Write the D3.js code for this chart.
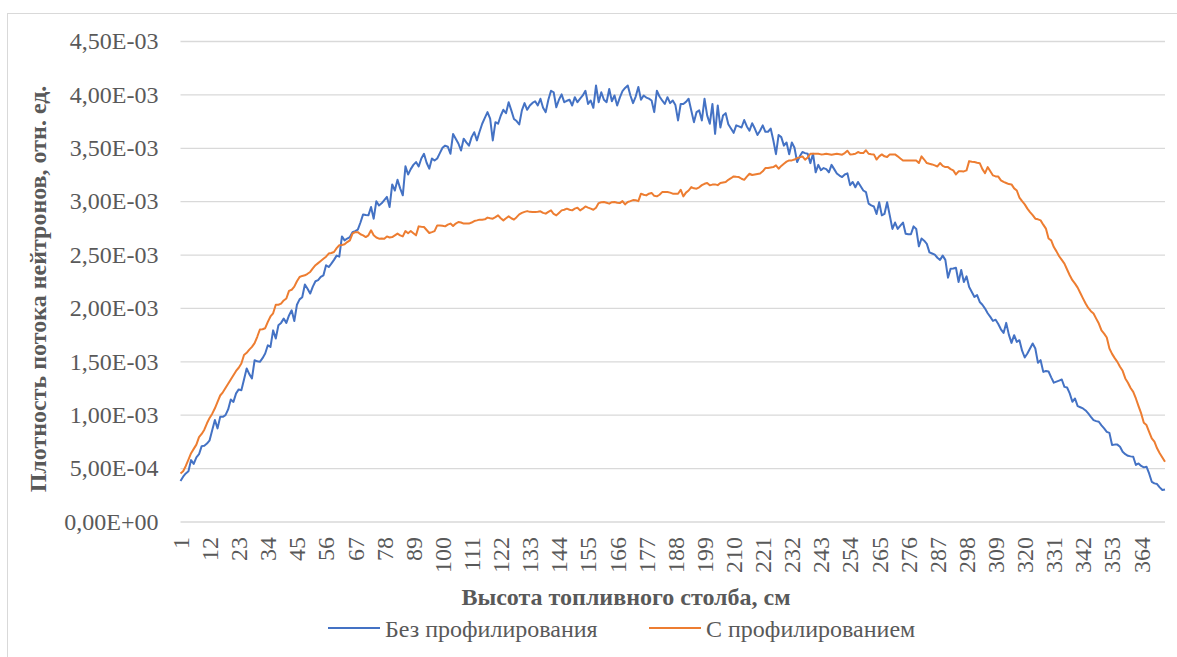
<!DOCTYPE html>
<html><head><meta charset="utf-8">
<script src="https://cdn.jsdelivr.net/npm/d3@7"></script>
<style>
html,body{margin:0;padding:0;background:#fff;}
svg{display:block;font-family:"Liberation Serif","Times New Roman",serif;}
</style></head>
<body>
<svg id="c" width="1177" height="657"></svg>
<script>
// Values in units of 1E-03 (отн. ед. × 10^-3)
const seriesNames = ["Без профилирования", "С профилированием"];
const blueE3 = [
0.38,0.42,0.45,0.47,0.575,0.54,0.6,0.63,0.706,0.71,
0.73,0.76,0.856,0.95,0.872,0.98,0.98,0.996,1.05,1.143,
1.12,1.2,1.237,1.23,1.33,1.433,1.38,1.34,1.51,1.5,
1.495,1.53,1.573,1.65,1.635,1.79,1.714,1.838,1.86,1.9,
1.86,1.93,1.978,1.878,2.03,2.08,2.1,2.22,2.18,2.135,
2.2,2.25,2.26,2.29,2.305,2.4,2.383,2.415,2.45,2.49,
2.48,2.67,2.633,2.65,2.664,2.71,2.72,2.733,2.8,2.876,
2.87,2.867,2.945,2.836,3.0,2.96,2.98,3.01,3.04,2.945,
3.157,3.1,3.2,3.12,3.055,3.326,3.25,3.3,3.34,3.366,
3.325,3.4,3.444,3.36,3.304,3.4,3.38,3.4,3.45,3.5,
3.52,3.51,3.444,3.63,3.585,3.54,3.475,3.585,3.55,3.52,
3.6,3.646,3.569,3.65,3.725,3.78,3.834,3.772,3.569,3.74,
3.725,3.8,3.856,3.824,3.927,3.85,3.77,3.75,3.718,3.85,
3.918,3.856,3.896,3.92,3.936,3.896,3.959,3.874,3.834,3.95,
4.034,4.02,3.88,3.95,4.0,3.927,3.94,3.95,3.896,3.974,
3.927,3.96,3.99,4.034,3.91,3.943,3.874,4.083,3.927,4.02,
3.95,3.927,4.05,3.936,3.99,3.896,3.97,4.03,4.06,4.083,
3.99,3.918,3.98,4.07,3.95,3.99,3.97,3.96,3.943,3.834,
4.034,3.98,3.943,3.91,3.974,3.918,3.943,3.9,3.756,3.91,
3.91,3.93,3.959,3.85,3.74,3.834,3.85,3.756,3.959,3.803,
3.725,3.91,3.631,3.896,3.69,3.803,3.824,3.72,3.68,3.64,
3.71,3.7,3.69,3.76,3.7,3.66,3.73,3.68,3.62,3.66,
3.71,3.65,3.65,3.68,3.57,3.44,3.62,3.6,3.52,3.55,
3.44,3.55,3.5,3.366,3.42,3.46,3.45,3.444,3.356,3.444,
3.27,3.34,3.29,3.31,3.3,3.27,3.34,3.3,3.26,3.24,
3.226,3.25,3.26,3.15,3.18,3.13,3.18,3.14,3.1,3.085,
2.977,2.96,2.95,2.88,2.99,2.867,2.88,2.99,2.867,2.74,
2.8,2.74,2.77,2.8,2.695,2.69,2.69,2.764,2.74,2.577,
2.65,2.63,2.6,2.52,2.51,2.5,2.47,2.45,2.49,2.45,
2.284,2.368,2.37,2.377,2.243,2.356,2.243,2.296,2.196,2.15,
2.103,2.12,2.056,2.03,1.994,1.95,1.916,1.878,1.89,1.85,
1.8,1.766,1.86,1.75,1.673,1.745,1.682,1.698,1.6,1.536,
1.573,1.62,1.667,1.62,1.486,1.511,1.401,1.41,1.405,1.35,
1.3,1.31,1.32,1.33,1.261,1.255,1.2,1.121,1.152,1.08,
1.07,1.059,1.04,1.012,0.98,0.95,0.94,0.934,0.9,0.872,
0.84,0.83,0.716,0.72,0.72,0.7,0.653,0.63,0.615,0.61,
0.606,0.529,0.544,0.52,0.507,0.513,0.45,0.372,0.357,0.351,
0.32,0.295,0.3
];
const orangeE3 = [
0.45,0.47,0.52,0.58,0.64,0.68,0.72,0.79,0.82,0.86,
0.92,0.97,1.01,1.06,1.12,1.18,1.21,1.25,1.29,1.33,
1.37,1.41,1.44,1.48,1.56,1.58,1.61,1.635,1.67,1.73,
1.798,1.8,1.81,1.87,1.92,1.95,2.03,2.03,2.04,2.07,
2.088,2.16,2.17,2.2,2.25,2.29,2.3,2.306,2.32,2.337,
2.37,2.4,2.42,2.44,2.46,2.48,2.509,2.515,2.524,2.56,
2.587,2.59,2.596,2.617,2.633,2.696,2.71,2.71,2.69,2.68,
2.664,2.68,2.727,2.68,2.66,2.649,2.65,2.649,2.67,2.66,
2.664,2.68,2.696,2.68,2.67,2.72,2.7,2.72,2.7,2.68,
2.764,2.76,2.758,2.73,2.702,2.71,2.72,2.773,2.773,2.77,
2.764,2.78,2.79,2.767,2.79,2.805,2.8,2.79,2.79,2.79,
2.8,2.814,2.82,2.827,2.827,2.83,2.846,2.84,2.836,2.85,
2.867,2.84,2.82,2.84,2.858,2.84,2.827,2.85,2.876,2.89,
2.9,2.907,2.9,2.899,2.899,2.9,2.905,2.89,2.883,2.9,
2.914,2.88,2.867,2.89,2.914,2.92,2.93,2.92,2.914,2.93,
2.939,2.914,2.93,2.951,2.94,2.93,2.92,2.939,2.982,2.99,
2.992,2.985,2.977,2.99,2.992,2.985,2.982,3.0,2.97,2.992,
3.0,3.01,3.008,3.0,3.07,3.06,3.054,3.07,3.077,3.05,
3.045,3.06,3.085,3.085,3.085,3.08,3.07,3.07,3.07,3.107,
3.045,3.08,3.1,3.132,3.12,3.117,3.13,3.15,3.163,3.17,
3.148,3.155,3.157,3.15,3.17,3.175,3.18,3.2,3.215,3.232,
3.228,3.226,3.21,3.2,3.23,3.257,3.245,3.25,3.255,3.26,
3.28,3.31,3.31,3.315,3.319,3.335,3.304,3.33,3.351,3.37,
3.382,3.382,3.39,3.404,3.41,3.419,3.388,3.41,3.444,3.444,
3.444,3.444,3.438,3.44,3.444,3.44,3.435,3.44,3.444,3.44,
3.435,3.45,3.472,3.438,3.44,3.444,3.46,3.45,3.45,3.477,
3.444,3.44,3.438,3.39,3.42,3.438,3.42,3.413,3.438,3.438,
3.438,3.42,3.4,3.38,3.38,3.38,3.38,3.38,3.38,3.357,
3.42,3.39,3.357,3.35,3.344,3.335,3.325,3.357,3.33,3.319,
3.319,3.3,3.288,3.25,3.28,3.28,3.279,3.288,3.375,3.37,
3.366,3.36,3.356,3.3,3.263,3.319,3.28,3.241,3.232,3.23,
3.195,3.18,3.17,3.16,3.157,3.12,3.1,3.033,3.0,2.97,
2.93,2.898,2.87,2.836,2.83,2.82,2.78,2.743,2.65,2.633,
2.57,2.53,2.484,2.45,2.415,2.36,2.306,2.26,2.228,2.19,
2.14,2.09,2.041,2.0,1.97,1.948,1.9,1.854,1.79,1.76,
1.723,1.62,1.57,1.53,1.495,1.45,1.411,1.34,1.3,1.25,
1.214,1.152,1.08,1.012,0.924,0.903,0.84,0.778,0.747,0.685,
0.64,0.6,0.559
];
const categories = d3.range(1, blueE3.length + 1);           // высота, см: 1..373
const xTickValues = categories.filter(c => (c - 1) % 11 === 0); // 1, 12, 23, ... 364
const yTickValues = [0, 0.5, 1.0, 1.5, 2.0, 2.5, 3.0, 3.5, 4.0, 4.5];
const yTickLabels = ["0,00E+00","5,00E-04","1,00E-03","1,50E-03","2,00E-03","2,50E-03","3,00E-03","3,50E-03","4,00E-03","4,50E-03"];
const xTitle = "Высота топливного столба, см";
const yTitle = "Плотность потока нейтронов, отн. ед.";
const colors = ["#4472C4", "#ED7D31"];

const svg = d3.select("#c");
const plot = {left: 180.5, right: 1165, top: 41, bottom: 521.5};
const FS = 24;

// outer chart border
svg.append("rect").attr("x", 7.5).attr("y", 13.5).attr("width", 1250).attr("height", 800)
  .attr("fill", "none").attr("stroke", "#d9d9d9").attr("stroke-width", 1);

const x = d3.scaleLinear().domain([1, categories.length]).range([plot.left, plot.right]);
const y = d3.scaleLinear().domain([0, 4.5]).range([plot.bottom, plot.top]);

// gridlines + y labels
const yAxis = d3.axisLeft(y).tickValues(yTickValues)
  .tickFormat((d, i) => yTickLabels[i]).tickSize(-(plot.right - plot.left)).tickPadding(22);
const gy = svg.append("g").attr("transform", `translate(${plot.left},0)`).call(yAxis);
gy.select(".domain").remove();
gy.selectAll(".tick line").attr("stroke", "#d9d9d9").attr("stroke-width", 1.3);
gy.selectAll(".tick text").attr("fill", "#595959").attr("font-size", FS)
  .attr("font-family", "Liberation Serif, Times New Roman, serif");

// x labels (rotated)
const gx = svg.append("g");
gx.selectAll("text").data(xTickValues).join("text")
  .attr("transform", d => `translate(${x(d)},537) rotate(-90)`)
  .attr("dy", "0.35em").attr("text-anchor", "end")
  .attr("fill", "#595959").attr("font-size", FS).text(d => d);

// lines
const line = d3.line().x((d, i) => x(categories[i])).y(d => y(d));
[blueE3, orangeE3].forEach((s, k) => {
  svg.append("path").datum(s).attr("d", line).attr("fill", "none")
    .attr("stroke", colors[k]).attr("stroke-width", 2).attr("stroke-linejoin", "round");
});

// axis titles
svg.append("text").attr("x", 626).attr("y", 605).attr("text-anchor", "middle")
  .attr("font-weight", "bold").attr("font-size", FS).attr("fill", "#595959").text(xTitle);
svg.append("text").attr("transform", "translate(46,289) rotate(-90)").attr("text-anchor", "middle")
  .attr("font-weight", "bold").attr("font-size", FS).attr("fill", "#595959").text(yTitle);

// legend
const legendX = [328, 649];
seriesNames.forEach((n, k) => {
  svg.append("line").attr("x1", legendX[k]).attr("x2", legendX[k] + 52).attr("y1", 628).attr("y2", 628)
    .attr("stroke", colors[k]).attr("stroke-width", 2);
  svg.append("text").attr("x", legendX[k] + 57).attr("y", 637).attr("font-size", FS)
    .attr("fill", "#595959").text(n);
});
</script>
</body></html>
